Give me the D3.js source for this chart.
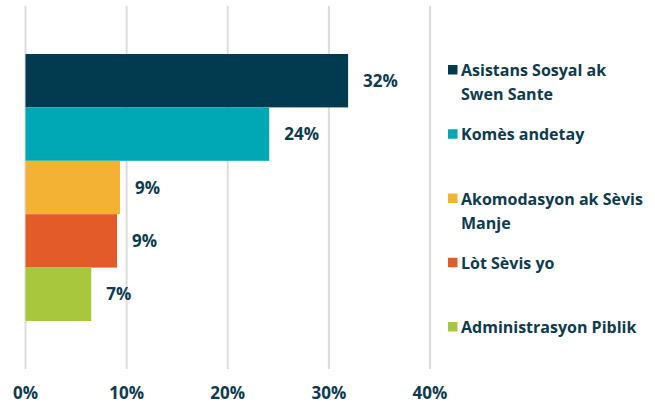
<!DOCTYPE html>
<html>
  <head>
    <meta charset="utf-8">
    <script src="https://d3js.org/d3.v7.min.js"></script>
    <style>
    body {
      margin: 0;
      background-color: #fff;
    }
    svg text {
      font-family: "Open Sans", sans-serif;
      font-weight: bold;
      fill: #0d3b4e;
    }
    .grid line {
      stroke: #dcdcdc;
      stroke-width: 2px;
    }
    </style>
  </head>
  <body>
    <script>
      const categories = ['Asistans Sosyal ak Swen Sante', 'Komès andetay', 'Akomodasyon ak Sèvis Manje', 'Lòt Sèvis yo', 'Administrasyon Piblik']
      const legendLines = [['Asistans Sosyal ak', 'Swen Sante'], ['Komès andetay'], ['Akomodasyon ak Sèvis', 'Manje'], ['Lòt Sèvis yo'], ['Administrasyon Piblik']]
      const values = [31.9, 24.1, 9.35, 9.05, 6.5]
      const labels = ['32%', '24%', '9%', '9%', '7%']
      const colors = ['#023b4f', '#00a7b5', '#f3b233', '#e35b28', '#a9c73c']
      const ticks = [0, 10, 20, 30, 40]

      let w = 655
      let h = 404
      let svg = d3.select('body')
                  .append('svg')
                  .attr('width', w)
                  .attr('height', h)

      let xScale = d3.scaleLinear()
                     .domain([0, 40])
                     .range([25.5, 430])

      let yScale = d3.scaleBand()
                     .domain(categories)
                     .range([54, 321])
                     .padding(0)

      // gridlines
      svg.append('g')
         .attr('class', 'grid')
         .selectAll('line')
         .data(ticks)
         .enter()
         .append('line')
         .attr('x1', d => xScale(d))
         .attr('x2', d => xScale(d))
         .attr('y1', 6)
         .attr('y2', 369)

      // tick labels
      svg.append('g')
         .selectAll('text')
         .data(ticks)
         .enter()
         .append('text')
         .attr('x', d => xScale(d))
         .attr('y', 399)
         .attr('text-anchor', 'middle')
         .style('font-size', '17px')
         .text(d => d + '%')

      // bars
      svg.selectAll('rect.bar')
         .data(values)
         .enter()
         .append('rect')
         .attr('class', 'bar')
         .attr('x', xScale(0))
         .attr('y', (d, i) => yScale(categories[i]))
         .attr('width', d => xScale(d) - xScale(0))
         .attr('height', yScale.bandwidth())
         .style('fill', (d, i) => colors[i])

      // value labels
      svg.selectAll('text.val')
         .data(values)
         .enter()
         .append('text')
         .attr('class', 'val')
         .attr('x', d => xScale(d) + 15)
         .attr('y', (d, i) => yScale(categories[i]) + yScale.bandwidth() / 2 + 6)
         .style('font-size', '17px')
         .text((d, i) => labels[i])

      // legend
      let legendY = d3.scalePoint()
                      .domain(categories)
                      .range([70, 327])

      let legend = svg.append('g')
                      .selectAll('g')
                      .data(categories)
                      .enter()
                      .append('g')
                      .attr('transform', d => `translate(448, ${legendY(d)})`)

      legend.append('rect')
            .attr('x', 0)
            .attr('y', -5)
            .attr('width', 9.5)
            .attr('height', 9.5)
            .style('fill', (d, i) => colors[i])

      legend.append('text')
            .attr('x', 13)
            .attr('y', 6)
            .style('font-size', '16px')
            .selectAll('tspan')
            .data((d, i) => legendLines[i])
            .enter()
            .append('tspan')
            .attr('x', 13)
            .attr('dy', (d, i) => i === 0 ? 0 : 24)
            .text(d => d)
    </script>
  </body>
</html>
